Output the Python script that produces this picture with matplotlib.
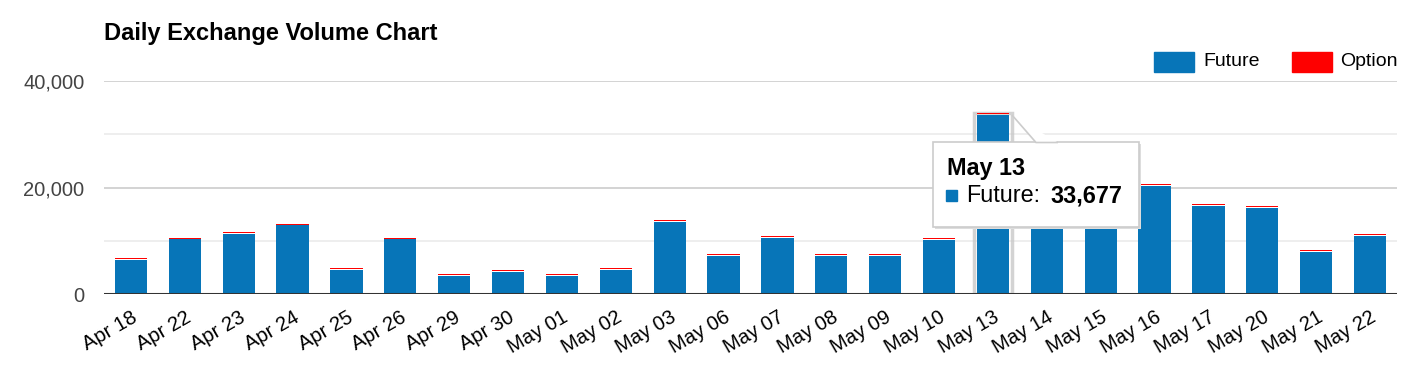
import numpy as np
import matplotlib.pyplot as plt
from matplotlib.patches import FancyBboxPatch, Polygon, Rectangle

plt.rcParams['font.family'] = ['Liberation Sans', 'DejaVu Sans']

dates = ['Apr 18', 'Apr 22', 'Apr 23', 'Apr 24', 'Apr 25', 'Apr 26', 'Apr 29', 'Apr 30',
         'May 01', 'May 02', 'May 03', 'May 06', 'May 07', 'May 08', 'May 09', 'May 10',
         'May 13', 'May 14', 'May 15', 'May 16', 'May 17', 'May 20', 'May 21', 'May 22']
future = [6400, 10250, 11300, 12870, 4560, 10250, 3430, 4180,
          3430, 4560, 13560, 7190, 10560, 7190, 7190, 10190,
          33677, 19500, 17800, 20300, 16560, 16190, 7940, 10940]
option = [260, 250, 250, 250, 250, 250, 250, 250,
          250, 250, 250, 250, 250, 250, 250, 250,
          250, 250, 250, 250, 250, 250, 250, 250]
yticks = [0, 20000, 40000]

blue = '#0775b8'
red = '#fe0000'
hl = dates.index('May 13')

fig = plt.figure(figsize=(14.14, 3.68), dpi=100)
ax = fig.add_axes([104 / 1414, 1 - 294 / 368, 1293 / 1414, 213 / 368])

x = np.arange(len(dates))
ax.bar(x, future, width=0.6, color=blue, zorder=3)
ax.bar(x, option, width=0.6, bottom=np.array(future) + 90, color=red, zorder=3)

# highlight of the hovered bar
ax.bar(x[hl], future[hl] + option[hl] + 90, width=0.7, color='none',
       edgecolor='#c8c8c8', linewidth=2.5, alpha=0.8, zorder=2)

ax.set_xlim(-0.5, len(dates) - 0.5)
ax.set_ylim(0, 40000)
ax.set_yticks(yticks)
ax.set_yticklabels([f'{v:,}' for v in yticks], color='#444444', fontsize=14.5)
for v in [10000, 30000]:
    ax.axhline(v, color='#ebebeb', lw=1.2, zorder=1)
for v in [20000, 40000]:
    ax.axhline(v, color='#cccccc', lw=1.2, zorder=1)
ax.axhline(0, color='#333333', lw=2.2, zorder=4)

ax.set_xticks(x)
ax.set_xticklabels(dates, rotation=30, ha='right', rotation_mode='anchor', fontsize=14.5)
ax.tick_params(length=0, pad=10)
ax.tick_params(axis='y', pad=14)
for s in ax.spines.values():
    s.set_visible(False)

fig.text(104 / 1414, 1 - 40 / 368, 'Daily Exchange Volume Chart', fontsize=17,
         fontweight='bold')

# legend
fig.patches.append(Rectangle((1154 / 1414, 1 - 72 / 368), 40 / 1414, 20 / 368,
                             transform=fig.transFigure, color=blue))
fig.text(1203 / 1414, 1 - 62 / 368, 'Future', fontsize=14, va='center')
fig.patches.append(Rectangle((1292 / 1414, 1 - 72 / 368), 40 / 1414, 20 / 368,
                             transform=fig.transFigure, color=red))
fig.text(1340 / 1414, 1 - 62 / 368, 'Option', fontsize=14, va='center')

# tooltip
def fx(px):
    return px / 1414

def fy(py):
    return 1 - py / 368

shadow = FancyBboxPatch((fx(935), fy(229)), fx(206), 85 / 368, boxstyle='square,pad=0',
                        transform=fig.transFigure, fc='#dddddd', ec='none', zorder=9)
box = FancyBboxPatch((fx(933), fy(227)), fx(206), 85 / 368, boxstyle='square,pad=0',
                     transform=fig.transFigure, fc='white', ec='#cccccc', lw=1.2, zorder=10)
fig.patches.extend([shadow, box])
ptr = Polygon([(fx(1012), fy(115)), (fx(1036), fy(142.5)), (fx(1058), fy(142.5))],
              closed=False, transform=fig.transFigure, fc='white', ec='#cccccc', lw=1.2,
              zorder=11)
fig.patches.append(ptr)
fig.text(fx(947), fy(168), 'May 13', fontsize=16.8, fontweight='bold', va='center', zorder=12)
fig.patches.append(Rectangle((fx(946), fy(201)), fx(11), 11 / 368,
                             transform=fig.transFigure, color=blue, zorder=12))
fig.text(fx(966), fy(196), 'Future:', fontsize=16.8, va='center', zorder=12)
fig.text(fx(1050), fy(196), f'{future[hl]:,}', fontsize=16.8, fontweight='bold',
         va='center', zorder=12)

fig.savefig('out.png', dpi=100)
